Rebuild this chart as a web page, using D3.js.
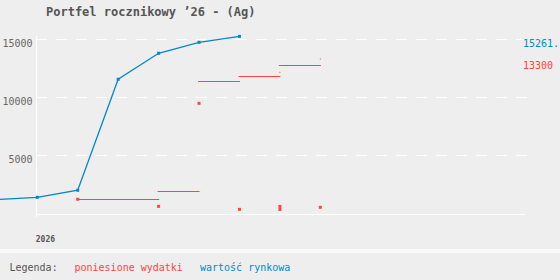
<!DOCTYPE html>
<html>
<head>
<meta charset="utf-8">
<script src="https://cdn.jsdelivr.net/npm/d3@7"></script>
<style>
  body { margin: 0; background: #eeeeee; }
  text { font-family: "DejaVu Sans Mono", "Liberation Mono", monospace; }
</style>
</head>
<body>
<div id="vis"></div>
<script>
const FRAME_WIDTH = 560;
const FRAME_HEIGHT = 280;

const BLUE = "#0088cc";
const RED = "#ff4444";
const GREY = "#555555";

// month index 0 = Jan 2026
const yTicks = [5000, 10000, 15000];
const yearLabel = "2026";

// market value (wartość rynkowa), month -1 is off the left edge
const valueMonths = [-1, 0, 1, 2, 3, 4, 5];
const marketValues = [1150, 1340, 1950, 11550, 13800, 14750, 15261];

// accumulated expenses, one step per month interval
const stepMonths = [1, 2, 3, 4, 5, 6];
const stepValues = [1170, 1170, 1860, 11380, 11830, 12760];

// expense markers (squares)
const markMonths = [1, 3, 4, 5, 6, 6, 7];
const markValues = [1170, 560, 9470, 300, 550, 290, 475];

// small dots
const dotMonths = [6, 7];
const dotValues = [12150, 13300];

const lastValueLabel = "15261.";
const lastCostLabel = "13300";

const svg = d3.select("#vis")
  .append("svg")
    .attr("width", FRAME_WIDTH)
    .attr("height", FRAME_HEIGHT);

svg.append("rect")
  .attr("width", FRAME_WIDTH)
  .attr("height", FRAME_HEIGHT)
  .attr("fill", "#eeeeee");

const X_SCALE = d3.scaleLinear()
  .domain([0, 12])
  .range([37.3, 522.5]);

const Y_SCALE = d3.scaleLinear()
  .domain([0, 15000])
  .range([212.8, 39.4]);

// title
svg.append("text")
  .attr("x", 46)
  .attr("y", 16)
  .attr("fill", GREY)
  .style("font-size", "12px")
  .style("font-weight", "bold")
  .text("Portfel rocznikowy \u201926 - (Ag)");

// grid lines
svg.selectAll(".grid")
  .data(yTicks)
  .enter()
  .append("line")
    .attr("class", "grid")
    .attr("x1", 36)
    .attr("x2", 527)
    .attr("y1", d => Math.round(Y_SCALE(d)) + 0.5)
    .attr("y2", d => Math.round(Y_SCALE(d)) + 0.5)
    .attr("stroke", "#ffffff")
    .attr("stroke-width", 1)
    .attr("stroke-dasharray", "11,9");

// y tick labels, hanging below the grid line
svg.selectAll(".ylab")
  .data(yTicks)
  .enter()
  .append("text")
    .attr("class", "ylab")
    .attr("x", 32.5)
    .attr("y", d => Y_SCALE(d) + 7.5)
    .attr("text-anchor", "end")
    .attr("fill", "#666666")
    .style("font-size", "10px")
    .text(d => d);

// axes
svg.append("line")
  .attr("x1", 36.5).attr("x2", 36.5)
  .attr("y1", 36).attr("y2", 217)
  .attr("stroke", "#ffffff");

svg.append("line")
  .attr("x1", 36).attr("x2", X_SCALE(12) + 2.5)
  .attr("y1", 214.5).attr("y2", 214.5)
  .attr("stroke", "#ffffff");

svg.append("text")
  .attr("x", X_SCALE(0) - 1.5)
  .attr("y", 241.5)
  .attr("fill", GREY)
  .style("font-size", "8px")
  .style("font-weight", "bold")
  .text(yearLabel);

// expense steps
svg.selectAll(".step")
  .data(stepMonths)
  .enter()
  .append("line")
    .attr("class", "step")
    .attr("x1", d => X_SCALE(d) - 1)
    .attr("x2", (d) => X_SCALE(d + 1) + 0.5)
    .attr("y1", (d, i) => Math.round(Y_SCALE(stepValues[i])) + 0.5)
    .attr("y2", (d, i) => Math.round(Y_SCALE(stepValues[i])) + 0.5)
    .attr("stroke", RED)
    .attr("stroke-width", 1);

svg.selectAll(".mark")
  .data(markMonths)
  .enter()
  .append("rect")
    .attr("class", "mark")
    .attr("x", d => X_SCALE(d) - 1.5)
    .attr("y", (d, i) => Y_SCALE(markValues[i]) - 1.5)
    .attr("width", 3)
    .attr("height", 3)
    .attr("fill", RED);

svg.selectAll(".dot")
  .data(dotMonths)
  .enter()
  .append("rect")
    .attr("class", "dot")
    .attr("x", d => X_SCALE(d) - 0.5)
    .attr("y", (d, i) => Y_SCALE(dotValues[i]) - 0.5)
    .attr("width", 1)
    .attr("height", 1)
    .attr("fill", RED);

// market value line
const line = d3.line()
  .x((d, i) => X_SCALE(valueMonths[i]))
  .y(d => Y_SCALE(d));

svg.append("path")
  .datum(marketValues)
  .attr("d", line)
  .attr("fill", "none")
  .attr("stroke", BLUE)
  .attr("stroke-width", 1.3);

svg.selectAll(".vpt")
  .data(valueMonths.slice(1))
  .enter()
  .append("rect")
    .attr("class", "vpt")
    .attr("x", d => X_SCALE(d) - 1.5)
    .attr("y", (d, i) => Y_SCALE(marketValues[i + 1]) - 1.5)
    .attr("width", 3)
    .attr("height", 3)
    .attr("fill", BLUE);

// end labels
svg.append("text")
  .attr("x", 523)
  .attr("y", Y_SCALE(marketValues[marketValues.length - 1]) + 10.4)
  .attr("fill", BLUE)
  .style("font-size", "10px")
  .text(lastValueLabel);

svg.append("text")
  .attr("x", 523)
  .attr("y", Y_SCALE(dotValues[dotValues.length - 1]) + 10.4)
  .attr("fill", RED)
  .style("font-size", "10px")
  .text(lastCostLabel);

// legend
svg.append("rect")
  .attr("x", 0)
  .attr("y", 249)
  .attr("width", FRAME_WIDTH)
  .attr("height", 4)
  .attr("fill", "#f9f9f9");

svg.append("text")
  .attr("x", 9.5).attr("y", 271)
  .attr("fill", GREY)
  .style("font-size", "10px")
  .text("Legenda:");

svg.append("text")
  .attr("x", 74.5).attr("y", 271)
  .attr("fill", RED)
  .style("font-size", "10px")
  .text("poniesione wydatki");

svg.append("text")
  .attr("x", 200).attr("y", 271)
  .attr("fill", BLUE)
  .style("font-size", "10px")
  .text("wartość rynkowa");
</script>
</body>
</html>
